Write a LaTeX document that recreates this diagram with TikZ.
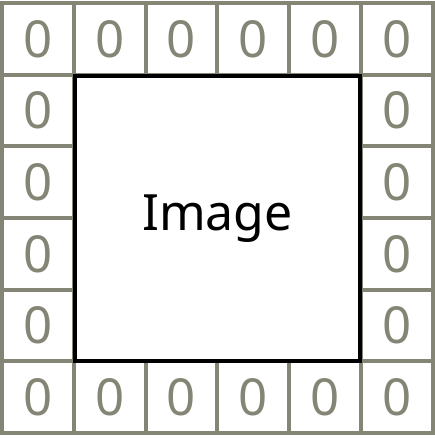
\documentclass[tikz,border=0pt]{standalone}
\usepackage{fontspec}
\setmainfont{Noto Sans}
\definecolor{gridgray}{RGB}{133,133,117}
\begin{document}
\begin{tikzpicture}[x=1pt,y=-1pt,
  cell/.style={draw=gridgray, line width=4pt, minimum width=71.83pt, minimum height=71.67pt,
    inner sep=0pt, text=gridgray, font=\fontsize{51}{60}\selectfont, anchor=center},
  imagebox/.style={draw=black, line width=4pt, minimum width=285pt, minimum height=284pt,
    inner sep=0pt, font=\fontsize{50}{60}\selectfont}]
\useasboundingbox (0,0) rectangle (435,441);
\foreach \i in {0,...,5} {
  \node[cell] (t\i) at ({2+71.83*(\i+0.5)}, {3+71.67*0.5}) {0};
  \node[cell] (b\i) at ({2+71.83*(\i+0.5)}, {3+71.67*5.5}) {0};
}
\foreach \j in {1,...,4} {
  \node[cell] (l\j) at ({2+71.83*0.5}, {3+71.67*(\j+0.5)}) {0};
  \node[cell] (r\j) at ({2+71.83*5.5}, {3+71.67*(\j+0.5)}) {0};
}
\node[imagebox] (img) at (217.5,218.5) {Image};
\end{tikzpicture}
\end{document}
